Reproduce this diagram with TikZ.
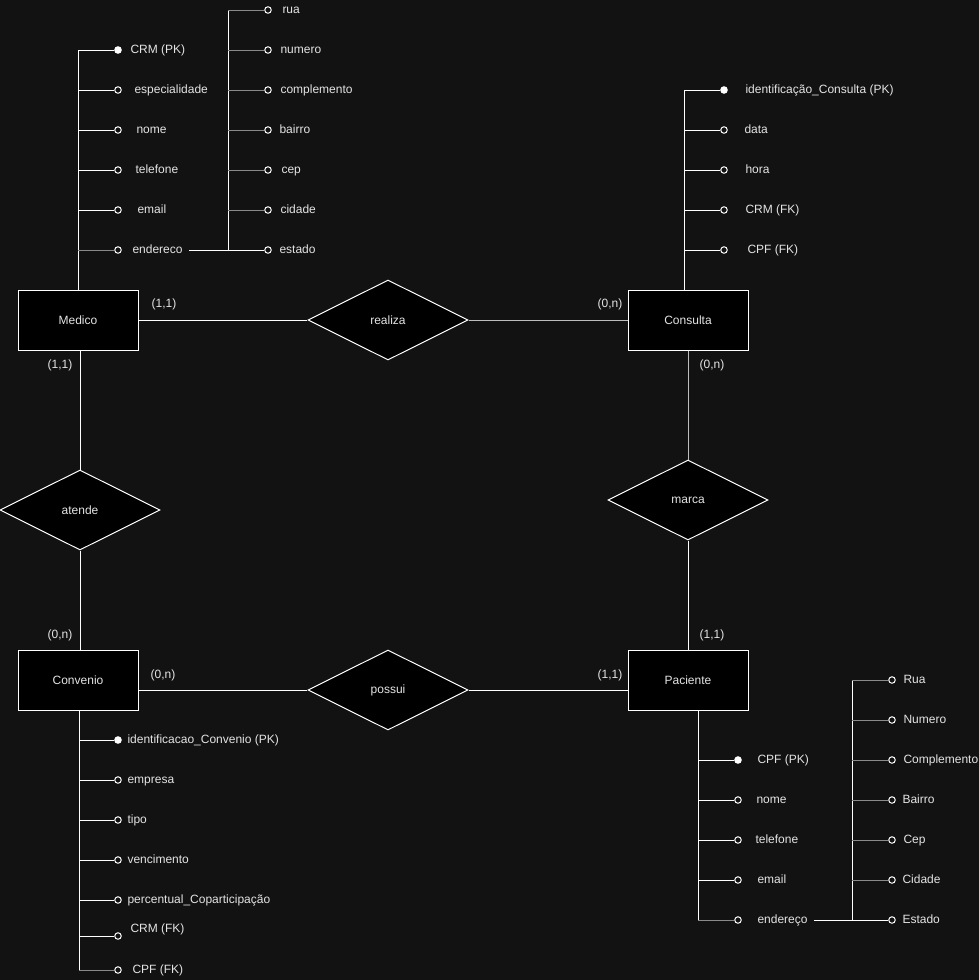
\documentclass[tikz,border=0pt]{standalone}
\usepackage{fontspec}
\setmainfont{Liberation Sans}
\usepackage{xcolor}
\usetikzlibrary{shapes.geometric}

\definecolor{fundo}{HTML}{121212}
\definecolor{texto}{HTML}{E4E4E4}
\definecolor{cinza}{HTML}{8A8A8A}
\definecolor{cinzaclaro}{HTML}{BDBDBD}

\tikzset{
  entidade/.style={draw=white, fill=black, minimum width=120pt, minimum height=60pt, inner sep=0, text=texto},
  relacao/.style={diamond, draw=white, fill=black, minimum width=160pt, minimum height=80pt, inner sep=0, text=texto},
  atrib/.style={circle, draw=white, fill=fundo, minimum size=6.5pt, inner sep=0},
  chave/.style={atrib, fill=white},
  rotulo/.style={anchor=west, inner sep=0, text=texto, text height=9pt, text depth=1.5pt},
  card/.style={inner sep=0, text=texto, text height=9pt, text depth=1.5pt}
}

\begin{document}
\begin{tikzpicture}[x=1pt,y=-1pt,font=\fontsize{12}{14}\selectfont,line width=1pt,draw=white]
        \fill[fundo] (0,0) rectangle (979,980);
        \useasboundingbox (0,0) rectangle (979,980);

        % entidades e relacionamentos
        \node[entidade] (medico) at (78,320) {Medico};
        \node[entidade] (consulta) at (688,320) {Consulta};
        \node[entidade] (convenio) at (78,680) {Convenio};
        \node[entidade] (paciente) at (688,680) {Paciente};
        \node[relacao] (realiza) at (388,320) {realiza};
        \node[relacao] (atende) at (80,510) {atende};
        \node[relacao] (marca) at (688,500) {marca};
        \node[relacao] (possui) at (388,690) {possui};

        \draw (medico) -- (realiza);
        \draw[cinzaclaro] (realiza) -- (consulta);
        \draw (medico.south -| atende) -- (atende);
        \draw (atende) -- (atende.south |- convenio.north);
        \draw[cinzaclaro] (consulta) -- (marca);
        \draw (marca) -- (paciente);
        \draw (convenio.east |- possui) -- (possui);
        \draw (possui) -- (paciente.west |- possui);

        \node[card] (c1) at (164,304) {(1,1)};
        \node[card] (c2) at (610,304) {(0,n)};
        \node[card] (c3) at (60,365) {(1,1)};
        \node[card] (c4) at (712,365) {(0,n)};
        \node[card] (c5) at (60,635) {(0,n)};
        \node[card] (c6) at (712,635) {(1,1)};
        \node[card] (c7) at (163,675) {(0,n)};
        \node[card] (c8) at (610,675) {(1,1)};

        % atributos do Medico
        \coordinate (mtopo) at (78,50);
        \draw (mtopo) -- (mtopo |- medico.north);
        \node[chave] (m1) at (118,50) {};
        \node[rotulo] (m1-t) at (130,50) {CRM (PK)};
        \draw (m1) -- (m1 -| mtopo);
        \foreach \y/\n/\t/\x in {90/m2/especialidade/134, 130/m3/nome/136, 170/m4/telefone/135, 210/m5/email/137}{
            \node[atrib] (\n) at (118,\y) {};
            \node[rotulo] (\n-t) at (\x,\y) {\t};
            \draw (\n) -- (\n -| mtopo);
        }
        \node[atrib] (m6) at (118,250) {};
        \node[rotulo] (m6-t) at (132,250) {endereco};
        \draw[cinza] (m6) -- (m6 -| mtopo);

        \coordinate (etopo) at (228,10);
        \coordinate (ebase) at (228,250);
        \draw ([xshift=6pt]m6-t.east) -- (ebase) -- (etopo);
        \foreach \y/\n/\t/\x in {10/e1/rua/282, 50/e2/numero/280, 90/e3/complemento/280, 130/e4/bairro/279, 170/e5/cep/281, 210/e6/cidade/280}{
            \node[atrib] (\n) at (268,\y) {};
            \node[rotulo] (\n-t) at (\x,\y) {\t};
            \draw[cinza] (\n) -- (\n -| etopo);
        }
        \node[atrib] (e7) at (268,250) {};
        \node[rotulo] (e7-t) at (279,250) {estado};
        \draw (e7) -- (ebase);

        % atributos da Consulta
        \coordinate (ctopo) at (684,90);
        \draw (ctopo) -- (ctopo |- consulta.north);
        \node[chave] (k1) at (724,90) {};
        \node[rotulo] (k1-t) at (745,90) {identificação\_Consulta (PK)};
        \draw (k1) -- (ctopo);
        \foreach \y/\n/\t/\x in {130/k2/data/744, 170/k3/hora/745, 210/k4/CRM (FK)/745, 250/k5/CPF (FK)/747}{
            \node[atrib] (\n) at (724,\y) {};
            \node[rotulo] (\n-t) at (\x,\y) {\t};
            \draw (\n) -- (\n -| ctopo);
        }

        % atributos do Convenio
        \coordinate (vbase) at (79,970);
        \draw (vbase |- convenio.south) -- (vbase);
        \node[chave] (v1) at (118,740) {};
        \node[rotulo] (v1-t) at (127,740) {identificacao\_Convenio (PK)};
        \draw (v1) -- (v1 -| vbase);
        \foreach \y/\n/\t in {780/v2/empresa, 820/v3/tipo, 860/v4/vencimento, 900/v5/percentual\_Coparticipação}{
            \node[atrib] (\n) at (118,\y) {};
            \node[rotulo] (\n-t) at (127,\y) {\t};
            \draw (\n) -- (\n -| vbase);
        }
        \node[atrib] (v6) at (118,936) {};
        \node[rotulo] (v6-t) at (130,929) {CRM (FK)};
        \draw (v6) -- (v6 -| vbase);
        \node[atrib] (v7) at (118,970) {};
        \node[rotulo] (v7-t) at (132,970) {CPF (FK)};
        \draw[cinza] (v7) -- (vbase);

        % atributos do Paciente
        \coordinate (pbase) at (698,920);
        \draw (pbase |- paciente.south) -- (pbase);
        \node[chave] (p1) at (738,760) {};
        \node[rotulo] (p1-t) at (757,760) {CPF (PK)};
        \draw (p1) -- (p1 -| pbase);
        \foreach \y/\n/\t/\x in {800/p2/nome/756, 840/p3/telefone/755, 880/p4/email/757}{
            \node[atrib] (\n) at (738,\y) {};
            \node[rotulo] (\n-t) at (\x,\y) {\t};
            \draw (\n) -- (\n -| pbase);
        }
        \node[atrib] (p5) at (738,920) {};
        \node[rotulo] (p5-t) at (757,920) {endereço};
        \draw[cinza] (p5) -- (pbase);

        \coordinate (rtopo) at (852,680);
        \coordinate (rbase) at (852,920);
        \draw ([xshift=6pt]p5-t.east) -- (rbase) -- (rtopo);
        \foreach \y/\n/\t/\x in {680/r1/Rua/903, 720/r2/Numero/903, 760/r3/Complemento/903, 800/r4/Bairro/902, 840/r5/Cep/903, 880/r6/Cidade/902}{
            \node[atrib] (\n) at (892,\y) {};
            \node[rotulo] (\n-t) at (\x,\y) {\t};
            \draw[cinza] (\n) -- (\n -| rtopo);
        }
        \node[atrib] (r7) at (892,920) {};
        \node[rotulo] (r7-t) at (902,920) {Estado};
        \draw (r7) -- (rbase);
    \end{tikzpicture}
\end{document}
